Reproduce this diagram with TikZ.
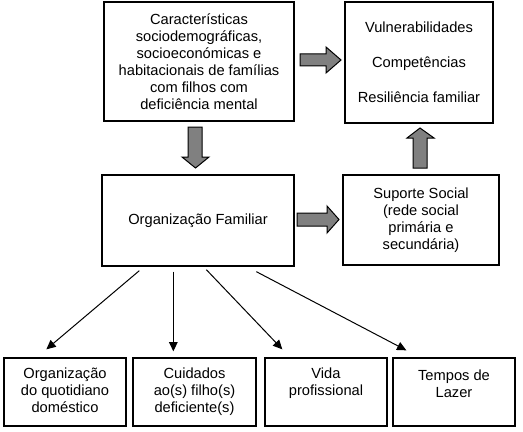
\documentclass[tikz,border=0pt]{standalone}
\usepackage{fontspec}
\setmainfont{Liberation Sans}
\usetikzlibrary{arrows.meta,calc}

\tikzset{every picture/.style={line width=0.75pt}}

\begin{document}
\begin{tikzpicture}[x=0.75pt,y=0.75pt,yscale=-1,xscale=1,
	box/.style={draw, line width=1pt, inner sep=0pt, align=center, font=\fontsize{11}{12.75}\selectfont},
	lbl/.style={inner sep=0pt, align=center, font=\fontsize{11}{12.75}\selectfont},
	blockarrow/.style={draw, line width=0.75pt, fill={rgb, 255:red, 128; green, 128; blue, 128}},
	link/.style={-{Triangle[length=7pt,width=6.5pt]}, line width=0.75pt}]
	\useasboundingbox (0,0) rectangle (523,431);
	
	%Shape: Rectangle [id:carac] 
	\node [box, minimum width=142.5pt, minimum height=89.25pt] (carac) at (199,61.5) {Características\\sociodemográficas,\\socioeconómicas e\\habitacionais de famílias\\com filhos com\\deficiência mental};
	%Shape: Rectangle [id:vuln] 
	\node [box, minimum width=111pt, minimum height=90.75pt] (vuln) at (419,62.5) {Vulnerabilidades\\[13.5pt]Competências\\[13.5pt]Resiliência familiar};
	%Shape: Rectangle [id:org] 
	\node [box, minimum width=144pt, minimum height=68.25pt] (org) at (198,220.5) {Organização Familiar};
	%Shape: Rectangle [id:suporte] 
	\node [box, minimum width=117pt, minimum height=67.5pt] (suporte) at (421,220) {Suporte Social\\(rede social\\primária e\\secundária)};
	%Shape: Rectangle [id:quot] 
	\node [box, minimum width=91.5pt, minimum height=51pt] (quot) at (65,392) {};
	%Shape: Rectangle [id:cuid] 
	\node [box, minimum width=92.25pt, minimum height=51pt] (cuid) at (194.5,392) {};
	%Shape: Rectangle [id:vida] 
	\node [box, minimum width=91.5pt, minimum height=51pt] (vida) at (326,392) {};
	%Shape: Rectangle [id:lazer] 
	\node [box, minimum width=91.5pt, minimum height=51pt] (lazer) at (454,392) {};
	
	%Shape: Right Arrow [id:ar1] 
	\draw [blockarrow] (300,54) -- (326,54) -- (326,47) -- (341,60) -- (326,73) -- (326,66) -- (300,66) -- cycle ;
	%Shape: Down Arrow [id:ar2] 
	\draw [blockarrow] (188,127) -- (202,127) -- (202,157) -- (209,157) -- (195.5,168) -- (182,157) -- (188,157) -- cycle ;
	%Shape: Right Arrow [id:ar3] 
	\draw [blockarrow] (297,213) -- (327,213) -- (327,206) -- (339,219.5) -- (327,233) -- (327,226) -- (297,226) -- cycle ;
	%Shape: Up Arrow [id:ar4] 
	\draw [blockarrow] (413,168) -- (427,168) -- (427,138) -- (434,138) -- (420,128) -- (407,138) -- (413,138) -- cycle ;
	
	%Straight Lines [id:ln1] 
	\draw [link] ($(org.south west)+(38,4)$) -- ($(quot.north west)+(43,-8)$) ;
	%Straight Lines [id:ln2] 
	\draw [link] ($(org.south west)+(72,5)$) -- ($(cuid.north west)+(41,-6)$) ;
	%Straight Lines [id:ln3] 
	\draw [link] ($(org.south west)+(105,3)$) -- ($(vida.north west)+(18,-8)$) ;
	%Straight Lines [id:ln4] 
	\draw [link] ($(org.south west)+(155,5)$) -- ($(lazer.north west)+(14,-7)$) ;
	
	% Text Node
	\node [lbl, anchor=north] (quottxt) at ($(quot.north)+(0,10)$) {Organização\\do quotidiano\\doméstico};
	% Text Node
	\node [lbl, anchor=north] (cuidtxt) at ($(cuid.north)+(0,10)$) {Cuidados\\ao(s) filho(s)\\deficiente(s)};
	% Text Node
	\node [lbl, anchor=north] (vidatxt) at ($(vida.north)+(0,10)$) {Vida\\profissional};
	% Text Node
	\node [lbl, anchor=north] (lazertxt) at ($(lazer.north)+(0,12)$) {Tempos de\\Lazer};
	
\end{tikzpicture}
\end{document}
